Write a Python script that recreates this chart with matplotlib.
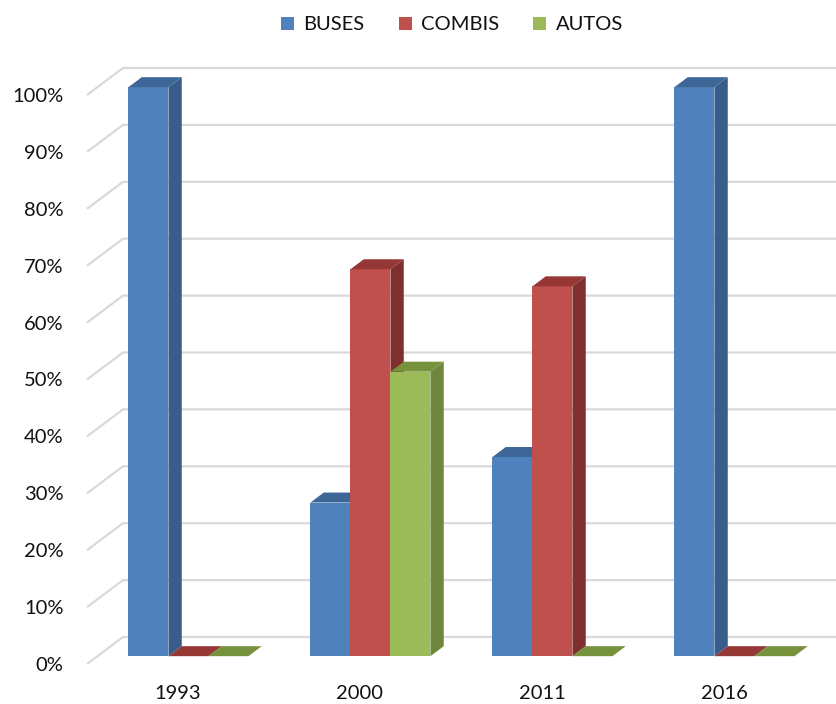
import matplotlib
matplotlib.use("Agg")
import matplotlib.pyplot as plt
from matplotlib.patches import Polygon, Patch

# ---- data ----
categories = ["1993", "2000", "2011", "2016"]
series_names = ["BUSES", "COMBIS", "AUTOS"]
buses = [100, 27, 35, 100]
combis = [0, 68, 65, 0]
autos = [0, 50, 0, 0]
y_ticks = [0, 10, 20, 30, 40, 50, 60, 70, 80, 90, 100]
y_tick_labels = [f"{t}%" for t in y_ticks]

# ---- style ----
front_cols = ["#4F81BD", "#C0504D", "#9BBB59"]
side_cols = ["#385D8A", "#7F302E", "#6E873C"]
top_cols = ["#3E6697", "#953735", "#76923C"]
grid_col = "#D9D9D9"
FONT = ["Lato", "DejaVu Sans"]
FS = 14.5

W, H = 837, 704
fig = plt.figure(figsize=(W / 100, H / 100), dpi=100)
# front plane of the chart: x from -0.5..3.5 (px 87..815), y 0..100 (px 662..93)
ax = fig.add_axes([87 / W, (H - 664) / H, 728 / W, 569 / H])
ax.set_xlim(-0.5, len(categories) - 0.5)
ax.set_ylim(0, 100)
for s in ax.spines.values():
    s.set_visible(False)

# depth vector (data units) for the full floor depth
px_per_x = 728 / 4.0
px_per_y = 569 / 100.0
DX = 36 / px_per_x
DY = 27 / px_per_y

# gridlines: diagonal on left wall + horizontal on back wall
xr = 3.5 + DX + 0.3
for t in y_ticks:
    ax.plot([-0.5, -0.5 + DX, xr], [t, t + DY, t + DY], color=grid_col,
            lw=1.6, clip_on=False, zorder=1, solid_capstyle="butt")

# bars
f_front, f_back = 0.29, 0.66
bw = 40 / px_per_x
series = [buses, combis, autos]
for i in range(len(categories)):
    for j, vals in enumerate(series):
        v = vals[i]
        x0 = i - 1.5 * bw + j * bw
        x1 = x0 + bw
        fx, fy = f_front * DX, f_front * DY
        bx, by = f_back * DX, f_back * DY
        z = 3 + i * 3 + j
        if v > 0:
            front = [(x0 + fx, fy), (x1 + fx, fy), (x1 + fx, v + fy), (x0 + fx, v + fy)]
            side = [(x1 + fx, fy), (x1 + bx, by), (x1 + bx, v + by), (x1 + fx, v + fy)]
            ax.add_patch(Polygon(side, closed=True, fc=side_cols[j], ec="none", zorder=z, clip_on=False))
            ax.add_patch(Polygon(front, closed=True, fc=front_cols[j], ec="none", zorder=z, clip_on=False))
        top = [(x0 + fx, v + fy), (x1 + fx, v + fy), (x1 + bx, v + by), (x0 + bx, v + by)]
        ax.add_patch(Polygon(top, closed=True, fc=top_cols[j], ec="none", zorder=z, clip_on=False))

# ticks
ax.set_yticks(y_ticks)
ax.set_yticklabels(y_tick_labels, fontfamily=FONT, fontsize=FS, color="#111111")
ax.set_xticks(range(len(categories)))
ax.set_xticklabels(categories, fontfamily=FONT, fontsize=FS, color="#111111")
ax.tick_params(axis="y", length=0, pad=17)
ax.tick_params(axis="x", length=0, pad=15)

# legend
handles = [Patch(fc=c, ec="none") for c in front_cols]
leg = fig.legend(handles, series_names, loc="center", bbox_to_anchor=(452 / W, 1 - 25 / H),
                 ncol=3, frameon=False, prop={"family": FONT, "size": FS},
                 handlelength=0.65, handleheight=0.65, handletextpad=0.45,
                 columnspacing=1.7, borderpad=0, borderaxespad=0)
for t in leg.get_texts():
    t.set_color("#111111")

fig.savefig("out.png", dpi=100, facecolor="white")
